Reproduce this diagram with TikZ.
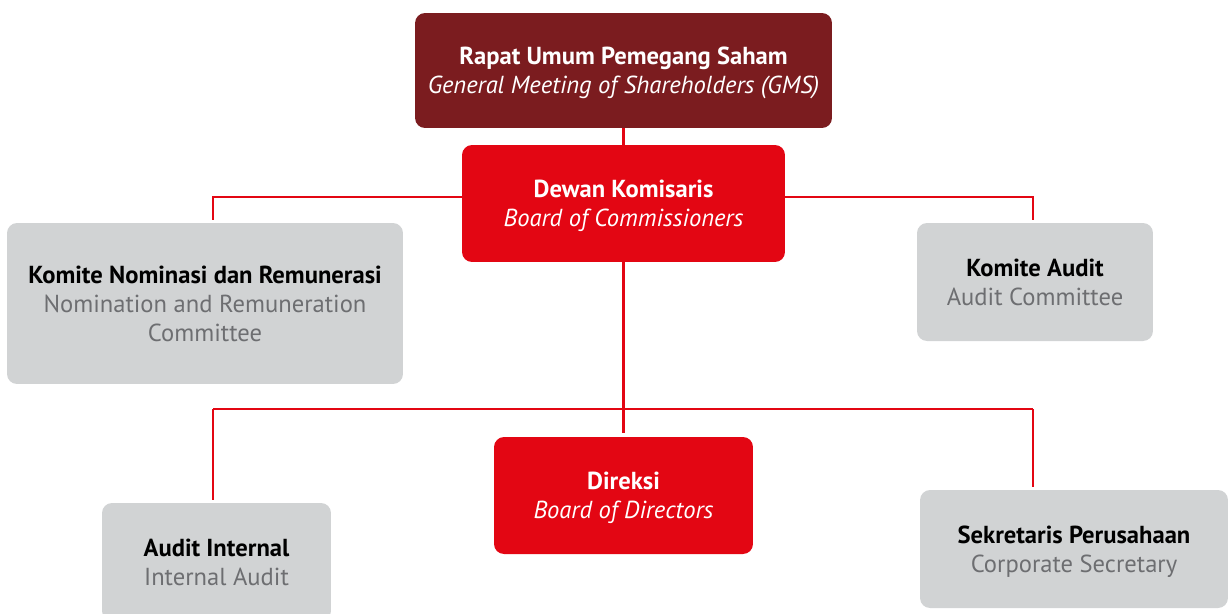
\documentclass[tikz,border=0pt]{standalone}
\usepackage{fontspec}
\setmainfont{PT Sans}
\usepackage{tikz}
\definecolor{gmsred}{HTML}{7B1C1F}
\definecolor{mainred}{HTML}{E30613}
\definecolor{boxgray}{HTML}{D1D3D4}
\definecolor{subgray}{HTML}{6D6E71}
\begin{document}
\begin{tikzpicture}[x=0.02cm,y=-0.02cm,
        orgbox/.style={shape=rectangle, rounded corners=0.2cm, inner sep=0pt,
        align=center, text depth=-4pt, font=\fontsize{14}{16.5}\selectfont},
        redbox/.style={orgbox, fill=mainred, text=white},
        grybox/.style={orgbox, fill=boxgray, text=black},
        link/.style={draw=mainred, line width=1.6pt}]
      \clip (0,0) rectangle (1229,613);
      \node[orgbox,fill=gmsred,text=white,minimum width=8.34cm,minimum height=2.30cm,name=gms]
        at (623.5,70.5) {\bfseries Rapat Umum Pemegang Saham\\\itshape General Meeting of Shareholders (GMS)};
      \node[redbox,minimum width=6.46cm,minimum height=2.34cm,name=boc]
        at (623.5,203.5) {\bfseries Dewan Komisaris\\\itshape Board of Commissioners};
      \node[grybox,minimum width=7.92cm,minimum height=3.22cm,name=knr]
        at (205,303.5) {\bfseries Komite Nominasi dan Remunerasi\\\color{subgray}Nomination and Remuneration\\\color{subgray}Committee};
      \node[grybox,minimum width=4.72cm,minimum height=2.36cm,name=ka]
        at (1035,282) {\bfseries Komite Audit\\\color{subgray}Audit Committee};
      \node[redbox,minimum width=5.18cm,minimum height=2.34cm,name=dir]
        at (623.5,495.5) {\bfseries Direksi\\\itshape Board of Directors};
      \node[grybox,minimum width=4.58cm,minimum height=2.36cm,name=ai]
        at (216.5,562) {\bfseries Audit Internal\\\color{subgray}Internal Audit};
      \node[grybox,minimum width=6.16cm,minimum height=2.36cm,name=sp]
        at (1074,549) {\bfseries Sekretaris Perusahaan\\\color{subgray}Corporate Secretary};
      \coordinate (topL) at (213,197);
      \coordinate (topR) at (1033,197);
      \coordinate (busL) at (213,409);
      \coordinate (busR) at (1033,409);
      \draw[link] (gms.south) -- (boc.north);
      \draw[link,shorten >=1.7pt] (boc.west |- topL) -- (topL) -- (topL |- knr.north);
      \draw[link,shorten >=1.7pt] (boc.east |- topR) -- (topR) -- (topR |- ka.north);
      \draw[link,shorten >=2.2pt] (boc.south) -- (dir.north);
      \draw[link] (busL) -- (busR);
      \draw[link,shorten >=1.7pt] (busL) -- (busL |- ai.north);
      \draw[link,shorten >=1.7pt] (busR) -- (busR |- sp.north);
    \end{tikzpicture}
\end{document}
